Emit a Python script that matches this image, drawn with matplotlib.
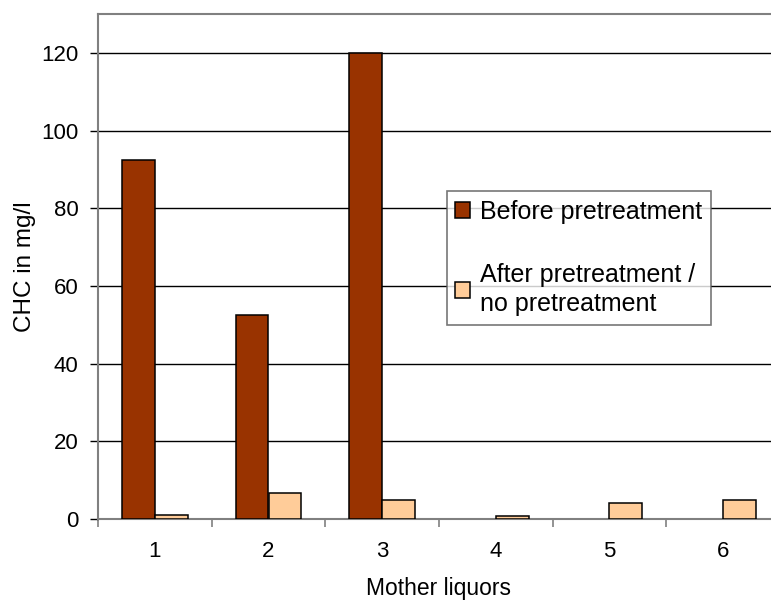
import matplotlib
matplotlib.use("Agg")
import matplotlib.pyplot as plt
import numpy as np
from matplotlib.ticker import FixedLocator, NullFormatter

categories = ["1", "2", "3", "4", "5", "6"]
before = [92.5, 52.5, 120, 0, 0, 0]
after = [1.0, 6.7, 4.8, 0.9, 4.1, 4.8]
series_names = ["Before pretreatment", "After pretreatment /\nno pretreatment"]
yticks = [0, 20, 40, 60, 80, 100, 120]

plt.rcParams['font.family'] = ['Liberation Sans', 'DejaVu Sans']

fig = plt.figure(figsize=(7.71, 6.0), dpi=100)
ax = fig.add_axes([98/771, 81/600, 682/771, 505/600])

x = np.arange(1, len(categories) + 1)
w = 0.29
b1 = ax.bar(x - w/2, before, width=w, color="#993300", edgecolor="black", linewidth=1.1,
            label=series_names[0], zorder=3)
b2 = ax.bar(x + w/2, after, width=w, color="#FFCC99", edgecolor="black", linewidth=1.1,
            label=series_names[1], zorder=3)
for patch, v in zip(b1.patches, before):
    if v == 0:
        patch.set_visible(False)

ax.set_xlim(0.5, 6.5)
ax.set_ylim(0, 130)
ax.set_yticks(yticks)
ax.yaxis.grid(True, color="black", linewidth=1.0, zorder=1)
ax.set_xticks(x)
ax.set_xticklabels(categories)
ax.xaxis.set_minor_locator(FixedLocator(np.arange(0.5, 7, 1.0)))
ax.xaxis.set_minor_formatter(NullFormatter())
ax.tick_params(axis="x", which="major", length=0, labelsize=16, pad=16)
ax.tick_params(axis="x", which="minor", length=6, color="#808080", width=1.2)
ax.tick_params(axis="y", length=6, color="black", width=1.0, labelsize=16, pad=8)

for s in ["left", "bottom", "top"]:
    ax.spines[s].set_color("#808080")
    ax.spines[s].set_linewidth(1.5)
ax.spines["right"].set_visible(False)

ax.set_xlabel("Mother liquors", fontsize=16.5, labelpad=11)
ax.set_ylabel("CHC in mg/l", fontsize=17.5, labelpad=4)

leg = ax.legend(loc="upper left", bbox_to_anchor=(0.511, 0.6495), fontsize=18,
                frameon=True, fancybox=False, edgecolor="#555555",
                handlelength=0.6, handleheight=0.6, handletextpad=0.4,
                labelspacing=1.55, borderpad=0.35, borderaxespad=0)
for t in leg.get_texts():
    t.set_linespacing(1.3)
leg.get_frame().set_linewidth(1.2)

fig.savefig("out.png", dpi=100)
